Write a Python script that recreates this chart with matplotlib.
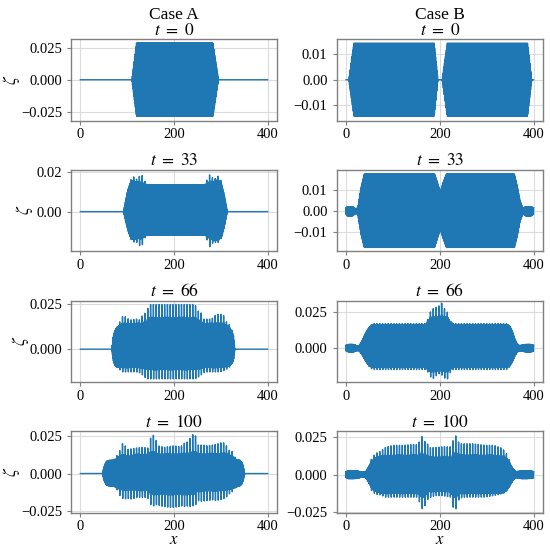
import numpy as np
import matplotlib
matplotlib.use("Agg")
import matplotlib.pyplot as plt

plt.rcParams["font.family"] = "serif"
plt.rcParams["font.serif"] = ["Liberation Serif", "DejaVu Serif"]
plt.rcParams["mathtext.fontset"] = "stix"

# ---------------- data (envelopes) ----------------
# Case A, t = 0
A0_x = [0, 110, 120, 283, 295, 400]
A0_up = [0, 0, 0.0285, 0.0285, 0, 0]
A0_lo = [0, 0, -0.0285, -0.0285, 0, 0]

# Case B, t = 0
B0_x = [0, 6, 17, 188, 196, 205, 216, 387, 396, 400]
B0_up = [0, 0, 0.0143, 0.0143, 0, 0, 0.0143, 0.0143, 0, 0]
B0_lo = [0, 0, -0.0143, -0.0143, 0, 0, -0.0143, -0.0143, 0, 0]

# Case A, t = 33
A33_x = [0, 92, 100, 106, 112, 118, 124, 130, 136, 142, 266, 272, 278, 284, 290, 296, 302, 308, 314, 400]
A33_up = [0, 0, 0.0095, 0.014, 0.0155, 0.015, 0.0145, 0.0145, 0.014, 0.0136, 0.0136, 0.014, 0.0145, 0.015, 0.0158, 0.0155, 0.0135, 0.0075, 0, 0]
A33_pu = [0, 0, 0.0095, 0.015, 0.0182, 0.016, 0.017, 0.0192, 0.016, 0.0136, 0.0136, 0.017, 0.0192, 0.016, 0.017, 0.0182, 0.0145, 0.0075, 0, 0]
A33_lo = [0, 0, -0.008, -0.0125, -0.014, -0.014, -0.013, -0.013, -0.0125, -0.0119, -0.0119, -0.0125, -0.013, -0.014, -0.0143, -0.014, -0.0125, -0.007, 0, 0]
A33_pl = [0, 0, -0.008, -0.013, -0.0155, -0.015, -0.016, -0.0185, -0.014, -0.0119, -0.0119, -0.015, -0.0185, -0.015, -0.0155, -0.0155, -0.013, -0.007, 0, 0]

# Case B, t = 33
B33_x = [0, 2, 8, 15, 20, 25, 32, 39, 189, 195, 201, 207, 214, 359, 365, 371, 377, 382, 390, 396, 400]
B33_up = [0.0015, 0.002, 0.0021, 0.002, 0.0012, 0.0014, 0.011, 0.0176, 0.0176, 0.0135, 0.0092, 0.0135, 0.0176, 0.0176, 0.012, 0.005, 0.0013, 0.002, 0.0021, 0.002, 0.0015]
B33_lo = [-0.0015, -0.0022, -0.0025, -0.0022, -0.0012, -0.0014, -0.011, -0.0173, -0.0173, -0.013, -0.0087, -0.013, -0.0173, -0.0173, -0.012, -0.005, -0.0013, -0.0022, -0.0025, -0.0022, -0.0015]

# Case A, t = 66
A66_x = [0, 67, 70, 73, 76, 83, 90, 97, 105, 112, 120, 127, 135, 140, 145, 150, 245, 250, 257, 262, 270, 280, 290, 297, 305, 312, 318, 323, 327, 330, 400]
A66_up = [0, 0, 0.0065, 0.0095, 0.0112, 0.0128, 0.0135, 0.0137, 0.0137, 0.0137, 0.0138, 0.014, 0.0142, 0.0145, 0.0155, 0.016, 0.016, 0.0155, 0.0145, 0.014, 0.0138, 0.0138, 0.0138, 0.0137, 0.0135, 0.013, 0.012, 0.01, 0.0075, 0, 0]
A66_pu = [0, 0, 0.0065, 0.0095, 0.0112, 0.0145, 0.0178, 0.0178, 0.016, 0.0162, 0.0165, 0.016, 0.0195, 0.0198, 0.023, 0.0245, 0.0245, 0.021, 0.0207, 0.0165, 0.0165, 0.0165, 0.019, 0.0192, 0.019, 0.015, 0.0135, 0.011, 0.008, 0, 0]
A66_lo = [0, 0, -0.006, -0.0085, -0.0095, -0.0098, -0.0098, -0.0098, -0.0098, -0.0098, -0.0098, -0.0098, -0.01, -0.0102, -0.0104, -0.0104, -0.0104, -0.0102, -0.01, -0.0098, -0.0098, -0.0098, -0.0098, -0.0098, -0.0097, -0.0095, -0.009, -0.008, -0.0065, 0, 0]
A66_pl = [0, 0, -0.006, -0.0085, -0.0095, -0.011, -0.0125, -0.0125, -0.0125, -0.0125, -0.0125, -0.013, -0.0145, -0.016, -0.0163, -0.0163, -0.0163, -0.0155, -0.0145, -0.013, -0.0125, -0.0125, -0.0125, -0.0125, -0.012, -0.011, -0.01, -0.0085, -0.0065, 0, 0]

# Case B, t = 66
B66_x = [0, 5, 12, 18, 22, 28, 34, 40, 46, 52, 58, 170, 173, 177, 181, 185, 189, 193, 197, 201, 205, 209, 213, 217, 221, 225, 229, 345, 350, 355, 360, 365, 370, 376, 383, 390, 396, 400]
B66_up = [0.002, 0.0026, 0.0027, 0.0025, 0.0018, 0.0018, 0.005, 0.0095, 0.013, 0.0155, 0.0164, 0.0164, 0.018, 0.02, 0.021, 0.021, 0.021, 0.021, 0.021, 0.021, 0.021, 0.021, 0.021, 0.021, 0.0195, 0.018, 0.0164, 0.0164, 0.015, 0.0115, 0.0065, 0.003, 0.0018, 0.0022, 0.0026, 0.0027, 0.0025, 0.002]
B66_pu = [0.002, 0.0026, 0.0027, 0.0025, 0.0018, 0.0018, 0.005, 0.0095, 0.013, 0.0158, 0.0172, 0.0172, 0.019, 0.0236, 0.026, 0.027, 0.0295, 0.0283, 0.0295, 0.030, 0.032, 0.0283, 0.026, 0.025, 0.0176, 0.018, 0.0172, 0.0172, 0.015, 0.0115, 0.0065, 0.003, 0.0018, 0.0022, 0.0026, 0.0027, 0.0025, 0.002]
B66_lo = [-0.002, -0.0026, -0.0027, -0.0025, -0.0018, -0.0018, -0.0045, -0.008, -0.011, -0.0128, -0.0133, -0.0133, -0.0145, -0.0157, -0.0157, -0.0157, -0.0157, -0.0157, -0.0157, -0.0157, -0.0157, -0.0157, -0.0157, -0.0157, -0.015, -0.014, -0.0133, -0.0133, -0.012, -0.0095, -0.0055, -0.0028, -0.0018, -0.0022, -0.0026, -0.0027, -0.0025, -0.002]
B66_pl = [-0.002, -0.0026, -0.0027, -0.0025, -0.0018, -0.0018, -0.0045, -0.008, -0.0115, -0.014, -0.015, -0.015, -0.016, -0.018, -0.0205, -0.0212, -0.0212, -0.019, -0.018, -0.018, -0.019, -0.0205, -0.0217, -0.0215, -0.018, -0.016, -0.015, -0.015, -0.0125, -0.0095, -0.0055, -0.0028, -0.0018, -0.0022, -0.0026, -0.0027, -0.0025, -0.002]

# Case A, t = 100
A100_x = [0, 47, 50, 53, 56, 62, 70, 76, 83, 90, 94, 100, 110, 119, 130, 144, 148, 152, 156, 160, 164, 170, 180, 190, 200, 210, 218, 224, 230, 236, 240, 246, 250, 260, 270, 283, 290, 297, 304, 311, 318, 325, 332, 337, 341, 345, 348, 351, 400]
A100_up = [0, 0, 0.004, 0.0065, 0.0082, 0.0088, 0.0089, 0.0095, 0.011, 0.011, 0.011, 0.011, 0.0115, 0.012, 0.012, 0.0123, 0.0123, 0.0123, 0.0123, 0.0123, 0.0123, 0.0123, 0.0123, 0.0123, 0.0123, 0.0123, 0.0123, 0.0123, 0.0123, 0.0123, 0.0123, 0.0123, 0.0123, 0.0123, 0.0123, 0.0123, 0.0123, 0.0123, 0.0123, 0.0123, 0.012, 0.0112, 0.0095, 0.009, 0.0088, 0.0075, 0.005, 0, 0]
A100_pu = [0, 0, 0.004, 0.0065, 0.0082, 0.0088, 0.0089, 0.011, 0.0145, 0.020, 0.0195, 0.016, 0.0165, 0.017, 0.0175, 0.017, 0.022, 0.025, 0.0255, 0.025, 0.019, 0.018, 0.0175, 0.018, 0.0185, 0.018, 0.0185, 0.021, 0.021, 0.0245, 0.0258, 0.025, 0.019, 0.019, 0.0185, 0.019, 0.0195, 0.020, 0.021, 0.019, 0.0155, 0.0145, 0.0095, 0.009, 0.0088, 0.0075, 0.005, 0, 0]
A100_lo = [0, 0, -0.004, -0.0062, -0.0078, -0.0083, -0.0084, -0.009, -0.010, -0.010, -0.010, -0.010, -0.0102, -0.0104, -0.0105, -0.0105, -0.0125, -0.0125, -0.0125, -0.0125, -0.0125, -0.0125, -0.0125, -0.0125, -0.0125, -0.0125, -0.0125, -0.0125, -0.0125, -0.0125, -0.0125, -0.0125, -0.011, -0.0105, -0.0105, -0.0105, -0.0105, -0.0105, -0.0105, -0.0105, -0.010, -0.0098, -0.009, -0.0085, -0.0082, -0.007, -0.0045, 0, 0]
A100_pl = [0, 0, -0.004, -0.0062, -0.0078, -0.0083, -0.0084, -0.009, -0.014, -0.0165, -0.017, -0.0165, -0.017, -0.016, -0.0158, -0.016, -0.020, -0.021, -0.0215, -0.022, -0.020, -0.0215, -0.022, -0.0225, -0.0225, -0.022, -0.0215, -0.022, -0.0215, -0.022, -0.0215, -0.021, -0.018, -0.0185, -0.018, -0.0175, -0.018, -0.0175, -0.017, -0.016, -0.0135, -0.012, -0.009, -0.0085, -0.0082, -0.007, -0.0045, 0, 0]

# Case B, t = 100
B100_x = [0, 5, 15, 25, 32, 38, 42, 48, 55, 63, 73, 84, 100, 120, 140, 155, 158, 161, 164, 168, 173, 177, 190, 205, 223, 227, 231, 235, 238, 241, 250, 270, 297, 315, 333, 340, 347, 352, 357, 362, 368, 375, 385, 395, 400]
B100_up = [0.002, 0.0025, 0.0025, 0.0024, 0.0018, 0.0018, 0.002, 0.005, 0.009, 0.0112, 0.0118, 0.0118, 0.0118, 0.0118, 0.0118, 0.0118, 0.0125, 0.013, 0.0125, 0.012, 0.0115, 0.0107, 0.0107, 0.0107, 0.0107, 0.0115, 0.0125, 0.013, 0.0125, 0.012, 0.0118, 0.0118, 0.0118, 0.0118, 0.0118, 0.0112, 0.009, 0.006, 0.0035, 0.002, 0.0022, 0.0025, 0.0025, 0.0024, 0.002]
B100_pu = [0.002, 0.0025, 0.0025, 0.0024, 0.0018, 0.0018, 0.002, 0.005, 0.011, 0.014, 0.0155, 0.018, 0.0195, 0.0195, 0.020, 0.020, 0.025, 0.0268, 0.022, 0.022, 0.021, 0.018, 0.018, 0.0185, 0.0185, 0.022, 0.024, 0.0263, 0.024, 0.0205, 0.0205, 0.0205, 0.0195, 0.0195, 0.0175, 0.015, 0.011, 0.006, 0.0035, 0.002, 0.0022, 0.0025, 0.0025, 0.0024, 0.002]
B100_lo = [-0.0022, -0.0027, -0.0027, -0.0025, -0.0018, -0.0018, -0.002, -0.005, -0.009, -0.011, -0.0122, -0.0122, -0.0122, -0.0122, -0.0122, -0.0122, -0.014, -0.014, -0.014, -0.014, -0.0125, -0.0108, -0.0108, -0.0108, -0.0108, -0.014, -0.014, -0.014, -0.014, -0.0125, -0.0122, -0.0122, -0.0122, -0.0122, -0.0122, -0.011, -0.0085, -0.006, -0.0035, -0.002, -0.0024, -0.0027, -0.0027, -0.0025, -0.0022]
B100_pl = [-0.0022, -0.0027, -0.0027, -0.0025, -0.0018, -0.0018, -0.002, -0.005, -0.011, -0.013, -0.0135, -0.015, -0.015, -0.015, -0.015, -0.015, -0.021, -0.0227, -0.0225, -0.021, -0.017, -0.0155, -0.014, -0.014, -0.015, -0.021, -0.0227, -0.0227, -0.021, -0.016, -0.015, -0.015, -0.015, -0.014, -0.0127, -0.012, -0.009, -0.006, -0.0035, -0.002, -0.0024, -0.0027, -0.0027, -0.0025, -0.0022]

columns = ["Case A", "Case B"]
times = [0, 33, 66, 100]
x_ticks = [0, 200, 400]

panels = [
    # (case col, row, envelopes, yticks, ylim, decimals)
    (0, 0, (A0_x, A0_up, A0_lo, A0_up, A0_lo), [-0.025, 0.0, 0.025], (-0.0317, 0.0317), 3),
    (1, 0, (B0_x, B0_up, B0_lo, B0_up, B0_lo), [-0.01, 0.0, 0.01], (-0.0160, 0.0160), 2),
    (0, 1, (A33_x, A33_up, A33_lo, A33_pu, A33_pl), [-0.02, 0.0, 0.02], (-0.0198, 0.0212), 2),
    (1, 1, (B33_x, B33_up, B33_lo, B33_up, B33_lo), [-0.01, 0.0, 0.01], (-0.0190, 0.0198), 2),
    (0, 2, (A66_x, A66_up, A66_lo, A66_pu, A66_pl), [-0.025, 0.0, 0.025], (-0.0180, 0.0267), 3),
    (1, 2, (B66_x, B66_up, B66_lo, B66_pu, B66_pl), [-0.025, 0.0, 0.025], (-0.0237, 0.0334), 3),
    (0, 3, (A100_x, A100_up, A100_lo, A100_pu, A100_pl), [-0.025, 0.0, 0.025], (-0.0259, 0.0283), 3),
    (1, 3, (B100_x, B100_up, B100_lo, B100_pu, B100_pl), [-0.025, 0.0, 0.025], (-0.0252, 0.0290), 3),
]

# carrier wave and spike comb (texture of the fast oscillation)
x = np.linspace(0, 400, 8001)
carrier = np.cos(2 * np.pi * x)
comb_up = ((1 + np.cos(2 * np.pi * x / 6.0)) / 2) ** 6
comb_lo = ((1 + np.cos(2 * np.pi * (x - 0.5) / 6.0)) / 2) ** 6


def wave(xk, up, lo, pu, pl):
    bu = np.interp(x, xk, up)
    bl = np.interp(x, xk, lo)
    au = bu + (np.interp(x, xk, pu) - bu) * comb_up
    al = bl + (np.interp(x, xk, pl) - bl) * comb_lo
    return np.where(carrier >= 0, au * carrier, -al * carrier)


def fmt(v, dec):
    s = ("%." + str(dec) + "f") % abs(v)
    return s if v >= 0 else "\u2212" + s


# ---------------- layout ----------------
W, H = 550, 548
fig = plt.figure(figsize=(W / 100, H / 100), dpi=100)
col_left = [71, 336.6]
col_width = [206, 206.4]
row_top = [39, 169.5, 300.5, 431]
row_h = 81.5
ylabel_px = [22, 35, 31, 22]   # right edge of the zeta label box, pixels
xlabel_base_px = 544           # baseline of the x label, pixels from top

for col, row, env, yt, yl, dec in panels:
    ax = fig.add_axes([col_left[col] / W, 1 - (row_top[row] + row_h) / H,
                       col_width[col] / W, row_h / H])
    ax.plot(x, wave(*env), color="#1f77b4", lw=1.0)
    ax.set_xlim(-20, 420)
    ax.set_xticks(x_ticks)
    ax.set_yticks(yt)
    ax.set_yticklabels([fmt(v, dec) for v in yt])
    ax.set_ylim(*yl)
    ax.grid(True, color="#dcdcdc", lw=0.8)
    ax.set_axisbelow(True)
    for s in ax.spines.values():
        s.set_color("#808080")
        s.set_linewidth(1.0)
    ax.tick_params(labelsize=10.5, color="#808080", length=3, width=0.8)
    ax.tick_params(axis="x", pad=2.5)
    title = "$t\\ =\\ %d$" % times[row]
    if row == 0:
        title = columns[col] + "\n" + title
    ax.set_title(title, fontsize=12.5, pad=3, linespacing=1.0)
    if col == 0:
        ax.set_ylabel(r"$\zeta$", fontsize=12.5)
        ax.yaxis.set_label_coords((ylabel_px[row] - col_left[0]) / col_width[0], 0.5)
    if row == 3:
        ax.set_xlabel(r"$x$", fontsize=12, va="baseline")
        ax.xaxis.set_label_coords(0.5, -(xlabel_base_px - row_top[row] - row_h) / row_h)

fig.savefig("out.png", dpi=100)
